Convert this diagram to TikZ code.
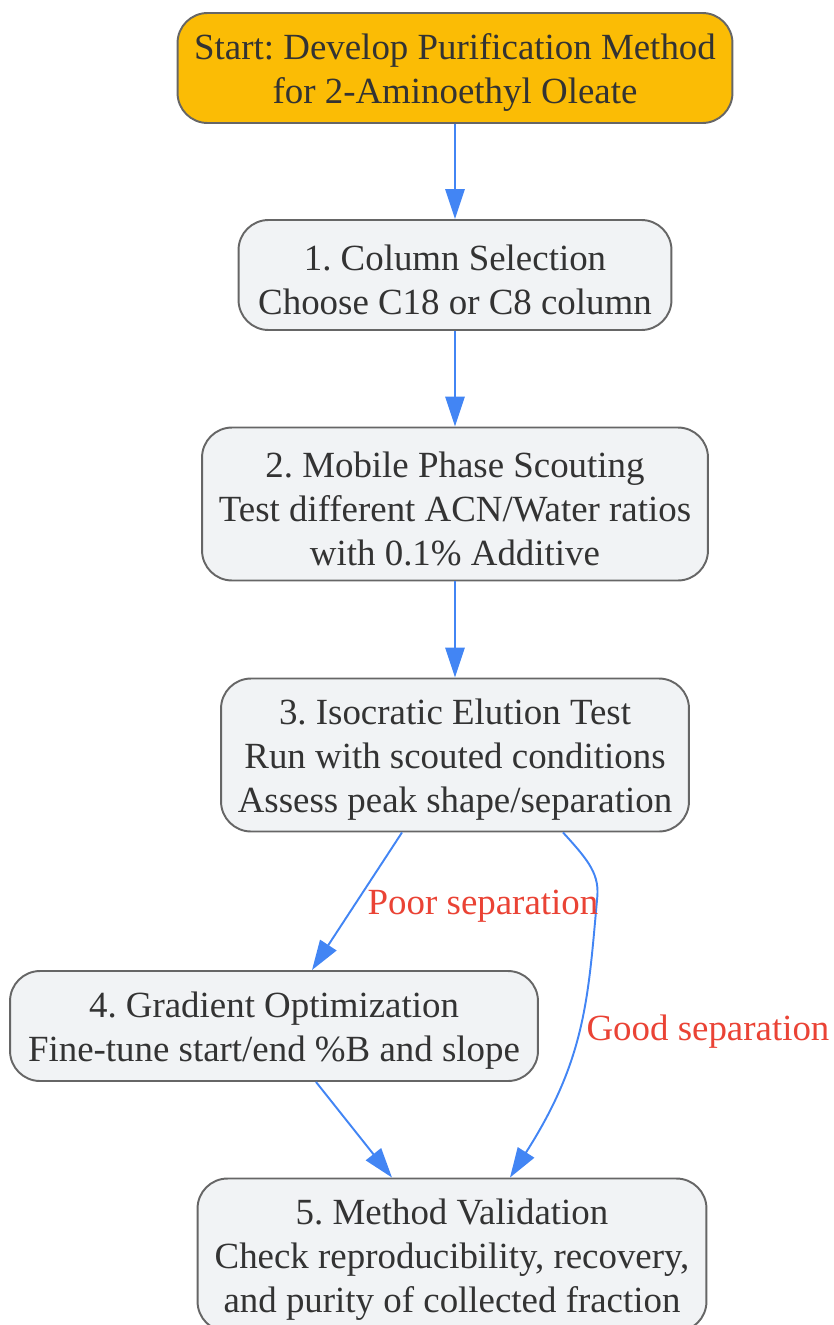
\documentclass[tikz,border=0pt]{standalone}
\usepackage{fontspec}
\setmainfont{Liberation Serif}
\usetikzlibrary{arrows.meta,calc}
\definecolor{startfill}{HTML}{FBBC05}
\definecolor{stepfill}{HTML}{F1F3F5}
\definecolor{stepline}{HTML}{666666}
\definecolor{flowblue}{HTML}{4285F4}
\definecolor{labelred}{HTML}{EA4335}
\definecolor{textgray}{HTML}{333333}
\newcommand{\linetop}{\rule{0pt}{20pt}}
\tikzset{
	stepbox/.style={draw=stepline,line width=1.1pt,fill=stepfill,rounded corners=0.6cm,
		align=center,inner sep=0pt,text=textgray,font=\fontsize{21}{25}\selectfont\frenchspacing},
	startbox/.style={stepbox,fill=startfill},
	flow/.style={draw=flowblue,line width=1.1pt,-{Triangle[length=17pt,width=11pt]}},
	edgelabel/.style={text=labelred,font=\fontsize{21}{25}\selectfont,inner sep=0pt}
}
\begin{document}
\begin{tikzpicture}[x=0.02cm,y=-0.02cm]
\useasboundingbox (0,0) rectangle (833,1325);
% steps
\node[startbox,minimum width=11.1cm,minimum height=2.2cm] (start) at (455,68)
	{\linetop Start: Develop Purification Method\\for 2-Aminoethyl Oleate};
\node[stepbox,minimum width=8.66cm,minimum height=2.2cm] (colsel) at (455,275)
	{\linetop 1. Column Selection\\Choose C18 or C8 column};
\node[stepbox,minimum width=10.12cm,minimum height=3.06cm] (mobile) at (455,504)
	{\linetop 2. Mobile Phase Scouting\\Test different ACN/Water ratios\\with 0.1\% Additive};
\node[stepbox,minimum width=9.36cm,minimum height=3.06cm] (isocratic) at (455,755)
	{\linetop 3. Isocratic Elution Test\\Run with scouted conditions\\Assess peak shape/separation};
\node[stepbox,minimum width=10.56cm,minimum height=2.2cm] (gradient) at (274,1026)
	{\linetop 4. Gradient Optimization\\Fine-tune start/end \%B and slope};
\node[stepbox,minimum width=10.18cm,minimum height=3.06cm] (validation) at (452,1255)
	{\linetop 5. Method Validation\\Check reproducibility, recovery,\\and purity of collected fraction};
% connectors
\draw[flow] (start) -- (colsel);
\draw[flow] (colsel) -- (mobile);
\draw[flow] (mobile) -- (isocratic);
\draw[flow] ($(isocratic.south)+(-53,0)$) -- ($(gradient.north)+(38,0)$);
\draw[flow] ($(gradient.south)+(42,0)$) -- ($(validation.north)+(-60,0)$);
\draw[flow] ($(isocratic.south)+(108,0)$) .. controls (590,862) and (600,875) .. (597,900)
	.. controls (588,1000) and (585,1060) .. ($(validation.north)+(58,0)$);
% labels
\node[edgelabel] (poor) at (483,906) {Poor separation};
\node[edgelabel] (good) at (708,1032) {Good separation};
\end{tikzpicture}
\end{document}
